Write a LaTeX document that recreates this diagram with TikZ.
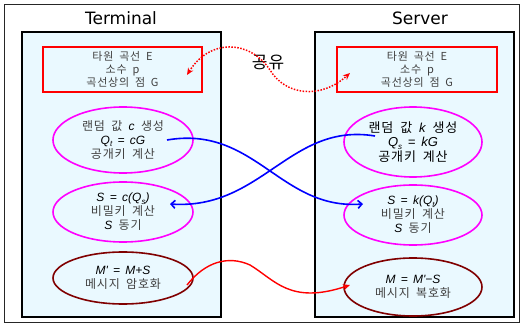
\documentclass[tikz,border=0pt]{standalone}
\usepackage{fontspec}
\setmainfont{DejaVu Sans}
\newfontfamily\kr[WordSpace=1.8,LetterSpace=7]{Noto Sans CJK KR}
\newfontfamily\lsans[WordSpace=1.6]{Liberation Sans}
\usetikzlibrary{arrows.meta,shapes.geometric}
\definecolor{panelfill}{HTML}{EAF9FF}
\definecolor{txtgray}{HTML}{404040}
\definecolor{darkred}{HTML}{800000}
\definecolor{mag}{HTML}{FF00FF}
\definecolor{bluel}{HTML}{0000FF}
\newcommand\mv[1]{{\color{black}\lsans\itshape #1}}
\newcommand\sbs[1]{\raisebox{-0.35ex}{\fontsize{8}{8}\selectfont #1}}
\tikzset{
  panel/.style={draw=black, line width=2.2pt, fill=panelfill, minimum width=199pt, minimum height=285pt, inner sep=0pt},
  redbox/.style={draw=red, line width=1.8pt, minimum height=45pt, inner sep=0pt, text=txtgray, align=center, font=\kr\fontsize{11}{13}\selectfont},
  ell/.style={ellipse, draw=mag, line width=1.6pt, inner sep=0pt, align=center, text=txtgray, font=\kr\fontsize{12}{14}\selectfont},
  ellr/.style={ell, draw=darkred},
  title/.style={font=\fontsize{17}{17}\selectfont, text=black},
  bluearr/.style={draw=bluel, line width=1.6pt, -{Straight Barb[length=4pt,width=8pt]}},
  redarr/.style={draw=red, line width=1.4pt, -{Stealth[length=7pt,width=6pt]}},
  dotarr/.style={draw=red, line width=1.5pt, dash pattern={on 1.5pt off 1.5pt}, {Stealth[length=7pt,width=6pt]}-{Stealth[length=7pt,width=6pt]}}
}
\begin{document}
\begin{tikzpicture}[x=1pt,y=-1pt]
\useasboundingbox (0,0) rectangle (523,324);
\draw[line width=0.9pt, black!85] (4,4) rectangle (519,322);
\node[title] (tt) at (121,18) {Terminal};
\node[title] (st) at (420,18) {Server};
\node[panel] (tp) at (121.5,174.5) {};
\node[panel] (sp) at (414.5,174.5) {};
\node[redbox, minimum width=159pt] (tr) at (122.5,69.5) {타원 곡선 E\\소수 p\\곡선상의 점 G};
\node[redbox, minimum width=160pt] (sr) at (417,69.5) {타원 곡선 E\\소수 p\\곡선상의 점 G};
\node[ell, minimum width=140pt, minimum height=66pt] (t1) at (123,140) {랜덤 값 \mv{c} 생성\\\mv{Q\sbs{t} = cG}\\공개키 계산};
\node[ell, minimum width=140pt, minimum height=60pt] (t2) at (123,212) {\mv{S = c(Q\sbs{s})}\\비밀키 계산\\\mv{S} 동기};
\node[ellr, minimum width=140pt, minimum height=52pt] (t3) at (123,278) {\mv{M' = M+S}\\메시지 암호화};
\node[ell, minimum width=138pt, minimum height=70pt, text=black, font=\kr\fontsize{13}{14.5}\selectfont] (s1) at (413,142) {랜덤 값 \mv{k} 생성\\\mv{Q\sbs{s} = kG}\\공개키 계산};
\node[ell, minimum width=138pt, minimum height=60pt] (s2) at (413,215) {\mv{S = k(Q\sbs{t})}\\비밀키 계산\\\mv{S} 동기};
\node[ellr, minimum width=138pt, minimum height=58pt] (s3) at (413,287) {\mv{M = M'−S}\\메시지 복호화};
\node (share) at (268,62) {\kr\fontsize{17}{17}\selectfont 공유};
% connector ends
\coordinate (d1) at (187,75);
\coordinate (dm) at (270,70);
\coordinate (d2) at (350,73);
\coordinate (a1) at (167,140);
\coordinate (a2) at (363,204);
\coordinate (b1) at (375,136);
\coordinate (b2) at (170,204);
\coordinate (r1) at (187,285);
\coordinate (rm) at (250,265);
\coordinate (r2) at (350,285);
\draw[dotarr] (d1) .. controls (210,38) and (250,40) .. (dm) .. controls (285,95) and (320,100) .. (d2);
\draw[bluearr] (a1) .. controls (255,125) and (280,210) .. (a2);
\draw[bluearr] (b1) .. controls (290,122) and (262,210) .. (b2);
\draw[redarr] (r1) .. controls (205,262) and (228,255) .. (rm) .. controls (275,280) and (290,305) .. (r2);
\end{tikzpicture}
\end{document}
